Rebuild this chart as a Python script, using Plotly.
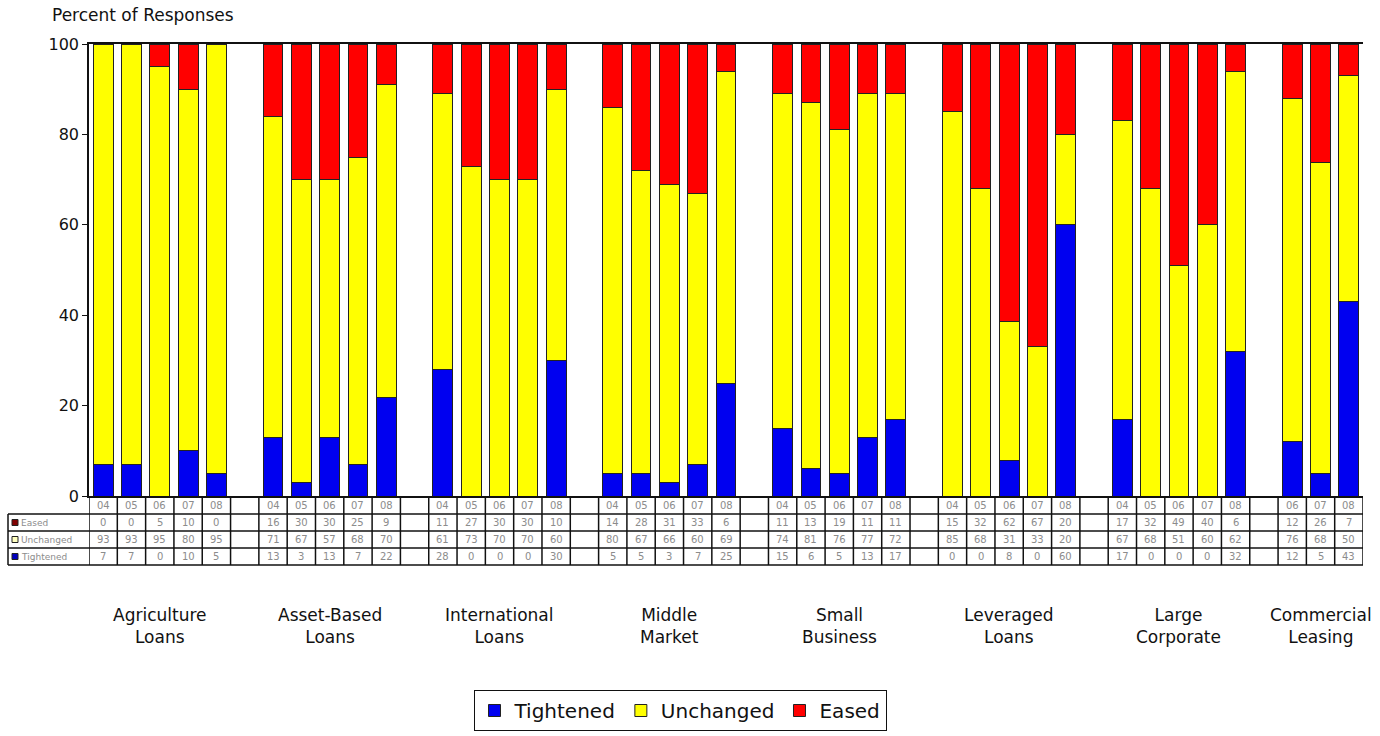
import plotly.graph_objects as go

groups = ["Agriculture<br>Loans", "Asset-Based<br>Loans", "International<br>Loans", "Middle<br>Market",
          "Small<br>Business", "Leveraged<br>Loans", "Large<br>Corporate", "Commercial<br>Leasing"]
years = [["04", "05", "06", "07", "08"]] * 7 + [["06", "07", "08"]]

tightened = [[7, 7, 0, 10, 5], [13, 3, 13, 7, 22], [28, 0, 0, 0, 30], [5, 5, 3, 7, 25],
             [15, 6, 5, 13, 17], [0, 0, 8, 0, 60], [17, 0, 0, 0, 32], [12, 5, 43]]
unchanged = [[93, 93, 95, 80, 95], [71, 67, 57, 68, 70], [61, 73, 70, 70, 60], [80, 67, 66, 60, 69],
             [74, 81, 76, 77, 72], [85, 68, 31, 33, 20], [67, 68, 51, 60, 62], [76, 68, 50]]
eased = [[0, 0, 5, 10, 0], [16, 30, 30, 25, 9], [11, 27, 30, 30, 10], [14, 28, 31, 33, 6],
         [11, 13, 19, 11, 11], [15, 32, 62, 67, 20], [17, 32, 49, 40, 6], [12, 26, 7]]

series = [("Tightened", tightened, "#0000F0"),
          ("Unchanged", unchanged, "#FFFF00"),
          ("Eased", eased, "#FF0000")]
key_colors = {"Tightened": "#0000c0", "Unchanged": "#ffffc0", "Eased": "#800000"}

# slot positions: 6 slots per group (5 bars + gap)
xpos, xlab = [], []
for g, yrs in enumerate(years):
    for s, y in enumerate(yrs):
        xpos.append(g * 6 + s)
        xlab.append(y)
nslots = 45

W, H = 1380, 736
ML, MR, MT, MB = 89, 17, 44, 240
PW, PH = W - ML - MR, H - MT - MB

def py(p):  # pixel y -> paper y
    return (H - MB - p) / PH

def px(p):  # pixel x -> paper x
    return (p - ML) / PW

FONT = "DejaVu Sans, Verdana, sans-serif"
GRAY = "#8c8c8c"

fig = go.Figure()
for name, vals, col in series:
    flat = [v for grp in vals for v in grp]
    fig.add_trace(go.Bar(x=xpos, y=flat, name=name, width=0.7,
                         marker=dict(color=col, line=dict(color="#222222", width=1))))

shapes, ann = [], []
line = dict(color="#111111", width=1.5)
# table row separators
for r in [514, 531, 548, 565]:
    shapes.append(dict(type="line", xref="paper", yref="paper", x0=px(8), x1=1,
                       y0=py(r), y1=py(r), line=line))
shapes.append(dict(type="line", xref="paper", yref="paper", x0=px(8), x1=px(8),
                   y0=py(514), y1=py(565), line=line))
# vertical column lines
for k in range(nslots + 1):
    shapes.append(dict(type="line", xref="x", yref="paper", x0=k - 0.5, x1=k - 0.5,
                       y0=py(497), y1=py(565), line=line))
# header year labels
for x, y in zip(xpos, xlab):
    ann.append(dict(x=x, y=py(506), xref="x", yref="paper", text=y, showarrow=False,
                    yanchor="middle", font=dict(size=10, color=GRAY, family=FONT)))
# data rows
row_centers = {"Eased": 522.5, "Unchanged": 539.5, "Tightened": 556.5}
for name, vals, col in series:
    flat = [v for grp in vals for v in grp]
    rc = row_centers[name]
    for x, v in zip(xpos, flat):
        ann.append(dict(x=x, y=py(rc), xref="x", yref="paper", text=str(v),
                        showarrow=False, yanchor="middle",
                        font=dict(size=10, color=GRAY, family=FONT)))
    shapes.append(dict(type="rect", xref="paper", yref="paper", x0=px(12), x1=px(18),
                       y0=py(rc + 3), y1=py(rc - 3), fillcolor=key_colors[name],
                       line=dict(color="#222222", width=1)))
    ann.append(dict(x=px(19), y=py(rc), xref="paper", yref="paper", text=name, showarrow=False,
                    xanchor="left", yanchor="middle",
                    font=dict(size=9, color=GRAY, family=FONT)))
# group labels
for g, (lab, yrs) in enumerate(zip(groups, years)):
    center = g * 6 + (len(yrs) - 1) / 2
    ann.append(dict(x=center, y=py(626), xref="x", yref="paper", text=lab, showarrow=False,
                    yanchor="middle", font=dict(size=17, color="#111111", family=FONT),
                    align="center"))
# axis title
ann.append(dict(x=px(50), y=py(15), xref="paper", yref="paper", text="Percent of Responses",
                showarrow=False, xanchor="left", yanchor="middle",
                font=dict(size=17, color="#111111", family=FONT)))

fig.update_layout(
    width=W, height=H, barmode="stack", barnorm="percent",
    margin=dict(l=ML, r=MR, t=MT, b=MB, autoexpand=False),
    paper_bgcolor="white", plot_bgcolor="white",
    font=dict(family=FONT, color="#111111"),
    xaxis=dict(range=[-0.5, nslots - 0.5], showticklabels=False, ticks="", showgrid=False,
               zeroline=False, showline=True, mirror=True, linecolor="#111111", linewidth=1.5),
    yaxis=dict(range=[0, 100], tickvals=[0, 20, 40, 60, 80, 100], ticks="outside", ticklen=5,
               tickcolor="#111111", showgrid=False, zeroline=False, showline=True,
               linecolor="#111111", linewidth=1.5, tickfont=dict(size=16, color="#111111")),
    legend=dict(orientation="h", x=px(680), xanchor="center", y=py(690), yanchor="top",
                bordercolor="#111111", borderwidth=1, font=dict(size=20, color="#111111"),
                traceorder="normal", bgcolor="white"),
    shapes=shapes, annotations=ann,
)
fig.write_html("out.html", config={"displayModeBar": False},
               post_script="document.body.style.margin='0';document.body.style.padding='0';")
